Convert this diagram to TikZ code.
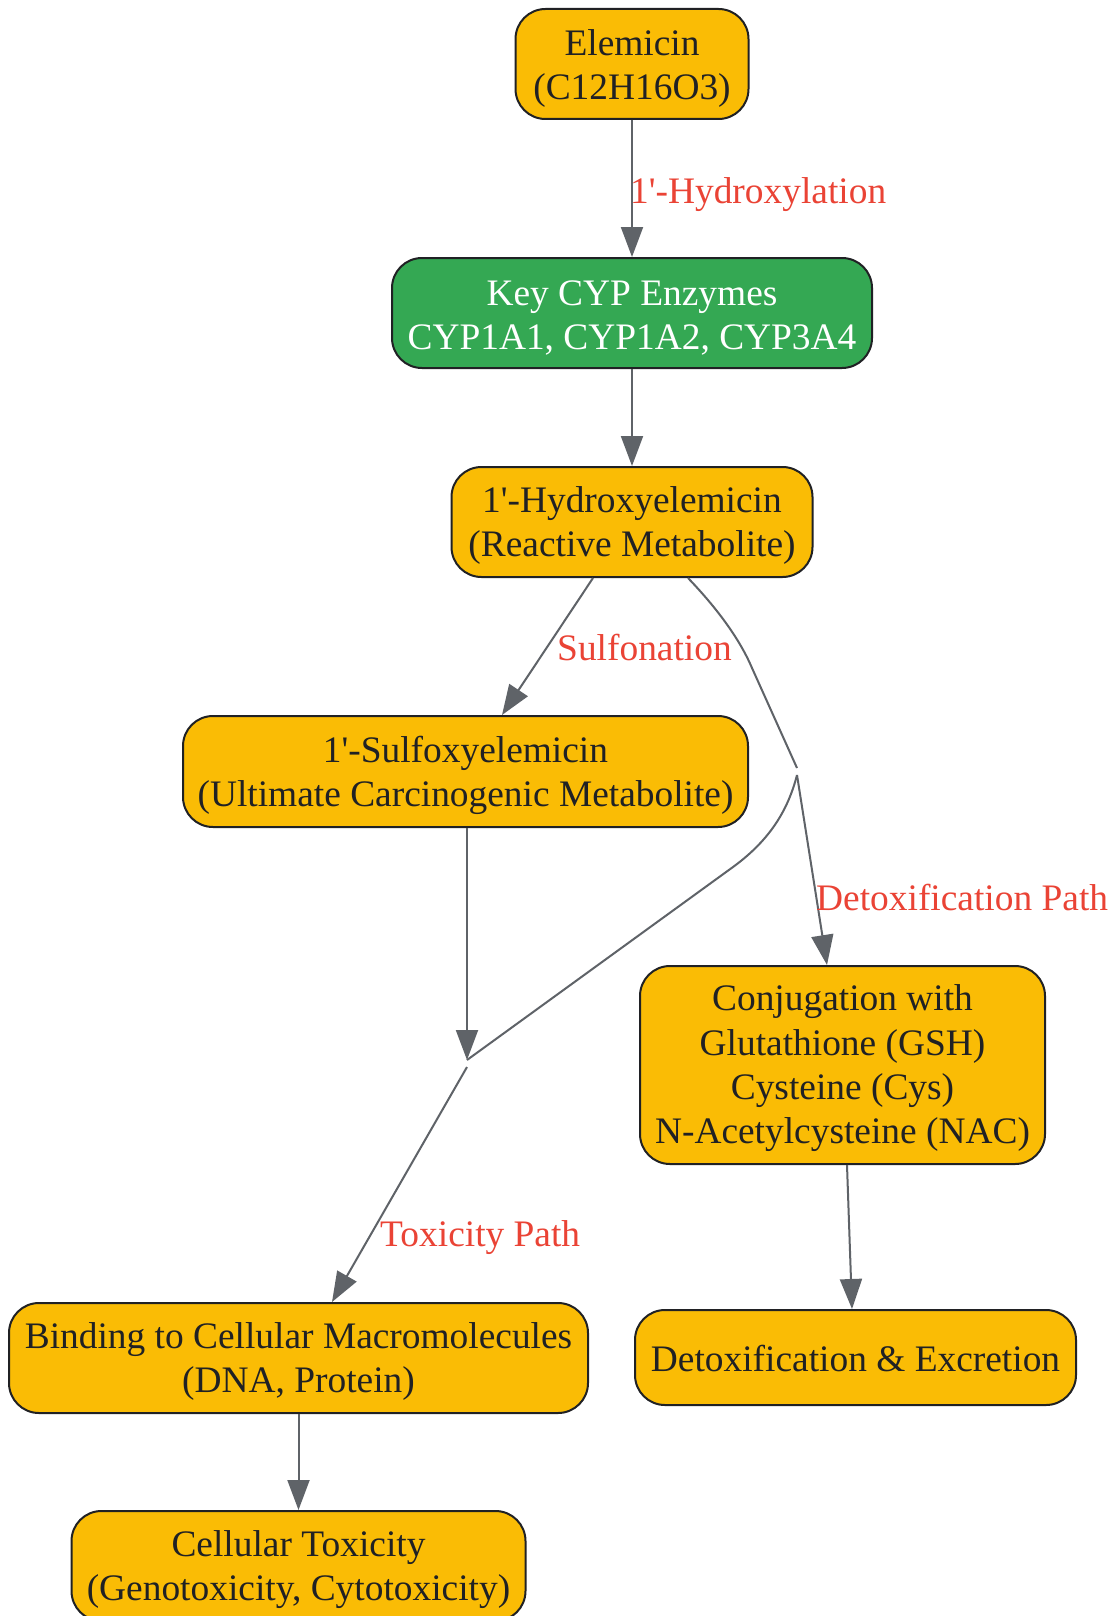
\documentclass[tikz,border=0pt]{standalone}
\usepackage{fontspec}
\setmainfont{Liberation Serif}[Ligatures=TeXOff]
\usetikzlibrary{arrows.meta}
\definecolor{gold}{HTML}{FABC05}
\definecolor{ggreen}{HTML}{34A853}
\definecolor{edgegray}{HTML}{5F6368}
\definecolor{lblred}{HTML}{EA4335}
\definecolor{ink}{HTML}{202124}
\newcommand\dnshift[1]{\rule{0pt}{\dimexpr\fontcharht\font`(+#1*2\relax}}
\begin{document}
\begin{tikzpicture}[x=1pt,y=-1pt,
  box/.style={draw=ink, line width=2pt, rounded corners=30pt, fill=gold, text=ink,
    align=center, inner sep=0pt, font=\fontsize{37.4}{44.3}\selectfont},
  greenbox/.style={box, fill=ggreen, text=white},
  conn/.style={draw=edgegray, line width=2pt, -{Triangle[length=30pt,width=22pt]}},
  plainline/.style={draw=edgegray, line width=2pt},
  lbl/.style={text=lblred, anchor=west, inner sep=0pt, font=\fontsize{37.4}{44.3}\selectfont}]
\useasboundingbox[fill=white] (0,0) rectangle (1108,1616);

\node[box, minimum width=233pt, minimum height=110pt] (elem) at (632,64) {\dnshift{5.5pt}Elemicin\\(C12H16O3)};
\node[greenbox, minimum width=480pt, minimum height=110pt] (cyp) at (632,313) {\dnshift{5pt}Key CYP Enzymes\\CYP1A1, CYP1A2, CYP3A4};
\node[box, minimum width=361pt, minimum height=110pt] (hyd) at (632,522) {\dnshift{4.5pt}1'-Hydroxyelemicin\\(Reactive Metabolite)};
\node[box, minimum width=565pt, minimum height=111pt] (sulf) at (465.5,771.5) {\dnshift{5pt}1'-Sulfoxyelemicin\\(Ultimate Carcinogenic Metabolite)};
\node[box, minimum width=405pt, minimum height=198pt] (conj) at (842.5,1065) {\dnshift{4pt}Conjugation with\\Glutathione (GSH)\\Cysteine (Cys)\\N-Acetylcysteine (NAC)};
\node[box, minimum width=579pt, minimum height=110pt] (bind) at (298.5,1358) {\dnshift{4.5pt}Binding to Cellular Macromolecules\\(DNA, Protein)};
\node[box, minimum width=441pt, minimum height=95pt] (detx) at (855.5,1357.5) {\dnshift{2pt}Detoxification \& Excretion};
\node[box, minimum width=454pt, minimum height=110pt] (cell) at (298.5,1566) {\dnshift{4.5pt}Cellular Toxicity\\(Genotoxicity, Cytotoxicity)};

\coordinate (v1a) at (797,768);
\coordinate (v1b) at (797,775);
\coordinate (v2a) at (467,1060);
\coordinate (v2b) at (467,1067);

\draw[conn] (elem.south) -- (cyp.north);
\node[lbl] (lhyd) at (630,195) {1'-Hydroxylation};
\draw[conn] (cyp.south) -- (hyd.north);
\draw[conn] ([xshift=-39pt]hyd.south) -- ([xshift=36.5pt]sulf.north);
\node[lbl] (lsulf) at (557,648) {Sulfonation};
\draw[plainline] ([xshift=56pt]hyd.south) .. controls (712,603) and (738,635) .. (752,668) -- (v1a);
\draw[conn] (v1b) -- ([xshift=-15.5pt]conj.north);
\node[lbl] (ldet) at (816,898) {Detoxification Path};
\draw[conn] ([xshift=1.5pt]sulf.south) -- (v2a);
\draw[plainline] (v1b) .. controls (788,810) and (770,840) .. (733,867) -- (v2a);
\draw[conn] (v2b) -- ([xshift=33.5pt]bind.north);
\node[lbl] (ltox) at (380,1238) {Toxicity Path};
\draw[conn] ([xshift=4.5pt]conj.south) -- ([xshift=-3.5pt]detx.north);
\draw[conn] (bind.south) -- (cell.north);
\end{tikzpicture}
\end{document}
